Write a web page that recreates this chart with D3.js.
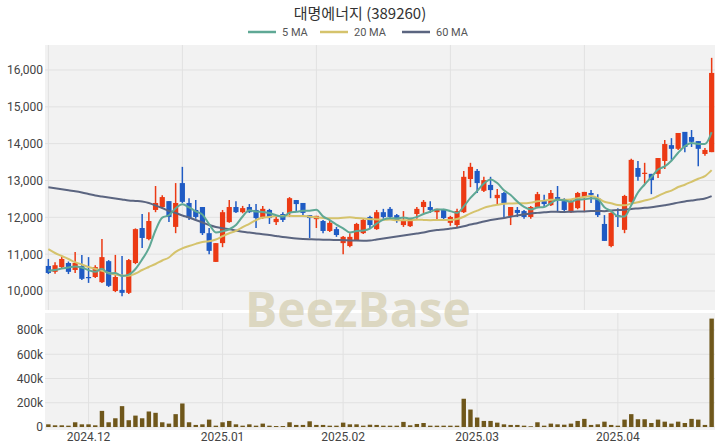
<!DOCTYPE html>
<html><head><meta charset="utf-8">
<script src="https://cdn.jsdelivr.net/npm/d3@7"></script>
<style>body{margin:0;background:#fff}svg{display:block}</style>
</head><body><svg id="c" width="720" height="448"></svg>
<script>
const title = "대명에너지 (389260)";
const dates = [
"2024-11-22","2024-11-25","2024-11-26","2024-11-27","2024-11-28","2024-11-29",
"2024-12-02","2024-12-03","2024-12-04","2024-12-05","2024-12-06","2024-12-09","2024-12-10","2024-12-11","2024-12-12","2024-12-13",
"2024-12-16","2024-12-17","2024-12-18","2024-12-19","2024-12-20","2024-12-23","2024-12-24","2024-12-26","2024-12-27","2024-12-30",
"2025-01-02","2025-01-03","2025-01-06","2025-01-07","2025-01-08","2025-01-09","2025-01-10","2025-01-13","2025-01-14","2025-01-15",
"2025-01-16","2025-01-17","2025-01-20","2025-01-21","2025-01-22","2025-01-23","2025-01-24","2025-01-31",
"2025-02-03","2025-02-04","2025-02-05","2025-02-06","2025-02-07","2025-02-10","2025-02-11","2025-02-12","2025-02-13","2025-02-14",
"2025-02-17","2025-02-18","2025-02-19","2025-02-20","2025-02-21","2025-02-24","2025-02-25","2025-02-26","2025-02-27","2025-02-28",
"2025-03-03","2025-03-04","2025-03-05","2025-03-06","2025-03-07","2025-03-10","2025-03-11","2025-03-12","2025-03-13","2025-03-14",
"2025-03-17","2025-03-18","2025-03-19","2025-03-20","2025-03-21","2025-03-24","2025-03-25","2025-03-26","2025-03-27","2025-03-28","2025-03-31",
"2025-04-01","2025-04-02","2025-04-03","2025-04-04","2025-04-07","2025-04-08","2025-04-09","2025-04-10","2025-04-11",
"2025-04-14","2025-04-15","2025-04-16","2025-04-17","2025-04-18","2025-04-21"];
const open = [10680,10520,10650,10760,10570,10680,10380,10380,10240,10810,10000,10030,9950,10760,11710,11410,12200,12280,12440,11740,
12930,12390,12200,12280,11570,10790,11300,11870,12280,12140,12280,12200,12010,12200,11870,12090,12120,12470,12390,12060,
11950,11900,11630,11680,11300,11220,11380,11570,12010,11680,12140,12230,12060,11790,11760,12090,12280,12280,12140,12200,
11850,11790,12140,13040,13260,12720,12880,12520,12660,12040,12200,12170,12010,12280,12440,12330,12550,12440,12140,12250,
12550,12660,12520,11820,11220,12060,11660,12420,13340,13180,13180,13180,13530,13960,13860,14320,14180,14070,13720,13770];
const high = [10870,10780,10950,10800,11060,10980,10920,10700,11410,10840,10980,10950,10870,11700,12090,12140,12850,12600,12440,12930,
13370,12520,12470,12280,11710,11300,12200,12470,12440,12310,12360,12360,12310,12230,12010,12140,12550,12470,12390,12060,
12040,11930,11930,11740,11490,11570,11850,11980,12040,12200,12230,12280,12090,12170,11980,12280,12470,12440,12230,12230,
12040,12230,13260,13480,13310,13100,13100,12770,12690,12280,12280,12200,12310,12690,12610,12740,12850,12520,12470,12690,
12690,12740,12630,12060,12140,12250,12610,13590,13530,13480,13180,13610,14100,14150,14290,14320,14370,14070,13880,16330];
const low = [10460,10470,10600,10460,10490,10300,10220,10350,10220,10110,9970,9860,9920,10730,11170,11380,12140,12250,11870,11570,
12390,11930,11960,11520,11000,10790,11190,11850,12120,12110,12120,11710,11960,11820,11790,11870,12010,12170,12060,11440,
11710,11570,11600,11470,11000,11190,11360,11550,11710,11660,11960,11960,11850,11740,11740,11960,12120,12120,11900,11900,
11770,11740,12120,12820,12660,12690,12520,12360,12010,11790,12010,11960,11960,12250,12280,12310,12140,12120,12120,12220,
12140,12390,12010,11360,11190,11740,11570,12390,12990,12910,12630,13070,13310,13560,13830,13770,13910,13390,13670,13770];
const close = [10490,10700,10870,10520,10760,10330,10350,10650,10920,10140,10380,9950,10840,11680,11440,11900,12390,12550,12010,12390,
12420,11980,12010,11570,11090,11300,12140,12280,12140,12250,12140,11980,12230,11980,11960,11930,12520,12360,12120,11980,
12040,11630,11850,11520,11470,11470,11820,11930,11790,12140,12010,12010,11900,11930,11980,12230,12420,12200,12230,11980,
12010,12170,13100,13370,12930,13010,12740,12610,12390,12280,12120,12010,12280,12630,12360,12660,12470,12200,12420,12660,
12690,12610,12060,11360,12120,12010,12580,13560,13100,13210,13010,13610,13990,13860,14290,13910,14050,13860,13830,15920];
const volume = [22000,14000,14000,11000,39000,22000,22000,14000,133000,39000,72000,172000,56000,94000,72000,128000,117000,39000,28000,106000,
194000,39000,17000,22000,61000,11000,39000,50000,22000,11000,22000,11000,28000,11000,8000,8000,39000,17000,17000,47000,
17000,17000,11000,11000,36000,22000,22000,11000,19000,17000,11000,11000,11000,42000,14000,25000,33000,11000,11000,11000,
11000,11000,233000,144000,78000,50000,50000,36000,22000,17000,17000,11000,6000,39000,11000,28000,22000,19000,28000,50000,
67000,17000,22000,44000,17000,11000,61000,106000,64000,64000,33000,61000,44000,28000,44000,33000,67000,61000,17000,894000];
const ma5Lead = [10550,10570,10610,10640];
const ma20Lead = [11135,11032,10950,10869,10782,10719,10652,10605,10548,10489,10448,10421,10415,10475,10570,10652,10733,10828,10910];
const ma60Lead = [12815,12791,12764,12734,12707,12674,12634,12593,12566,12539,12511,12484,12457,12444,12430,12389,12321,12253,12172,12118,
12050,11995,11928,11860,11792,11738,11702,11675,11643,11610,11586,11564,11542,11520,11493,11466,11444,11425,11412,11404,
11398,11393,11390,11385,11379,11374,11368,11366,11371,11398,11425,11453,11480,11507,11534,11561,11588,11629,11656];
const priceTicks = [10000,11000,12000,13000,14000,15000,16000];
const volumeTicks = [0,200000,400000,600000,800000];
const maSeries = [
  {name:"5 MA", n:5, lead:ma5Lead, color:"#5fa895"},
  {name:"20 MA", n:20, lead:ma20Lead, color:"#d5c36c"},
  {name:"60 MA", n:60, lead:ma60Lead, color:"#5b6580"}
];

function movingAvg(n, lead){
  return close.map((c,i)=> i < n-1 ? lead[i] : d3.mean(close.slice(i-n+1, i+1)));
}

const svg = d3.select("#c");
const L = 45, R = 715, mainTop = 45, mainBot = 310, volTop = 313, volBot = 430;
const x = d3.scaleBand().domain(dates).range([L, R]).padding(0);
const cx = d => x(d) + x.bandwidth()/2;
const y = d3.scaleLinear().domain([10000,16000]).range([291,70]);
const yv = d3.scaleLinear().domain([0,800000]).range([427,330]);
const numFont = "Roboto, 'Noto Sans', sans-serif";

// panels
svg.append("rect").attr("x",L).attr("y",mainTop).attr("width",R-L).attr("height",mainBot-mainTop).attr("fill","#f2f2f2");
svg.append("rect").attr("x",L).attr("y",volTop).attr("width",R-L).attr("height",volBot-volTop).attr("fill","#f2f2f2");

// grid main
const gMain = svg.append("g");
gMain.selectAll("line.h").data(priceTicks).join("line")
  .attr("x1",L).attr("x2",R).attr("y1",d=>y(d)).attr("y2",d=>y(d)).attr("stroke","#e1e1e1").attr("stroke-width",1);
const gridIdx = dates.filter((d,i)=>i%20===0);
gMain.selectAll("line.v").data(gridIdx).join("line")
  .attr("x1",d=>cx(d)).attr("x2",d=>cx(d)).attr("y1",mainTop).attr("y2",mainBot).attr("stroke","#e1e1e1");
// y axis labels main
const yAxis = d3.axisLeft(y).tickValues(priceTicks).tickSize(0).tickPadding(0).tickFormat(d3.format(","));
const ga = svg.append("g").attr("transform",`translate(${L-2},0)`).call(yAxis);
ga.select(".domain").remove();
ga.selectAll("text").attr("font-family",numFont).attr("font-size",12).attr("fill","#444");

// grid volume
const monthStarts = dates.filter((d,i)=> i>0 && d.slice(0,7)!==dates[i-1].slice(0,7));
svg.selectAll("line.vh").data(volumeTicks).join("line")
  .attr("x1",L).attr("x2",R).attr("y1",d=>yv(d)).attr("y2",d=>yv(d)).attr("stroke","#e1e1e1");
svg.selectAll("line.vv").data(monthStarts).join("line")
  .attr("x1",d=>cx(d)).attr("x2",d=>cx(d)).attr("y1",volTop).attr("y2",volBot).attr("stroke","#e1e1e1");
const vAxis = d3.axisLeft(yv).tickValues(volumeTicks).tickSize(0).tickPadding(0)
  .tickFormat(d=> d===0 ? "0" : (d/1000)+"k");
const gv = svg.append("g").attr("transform",`translate(${L-2},0)`).call(vAxis);
gv.select(".domain").remove();
gv.selectAll("text").attr("font-family",numFont).attr("font-size",12).attr("fill","#444");

// x axis labels
const xAxis = d3.axisBottom(x).tickValues(monthStarts).tickSize(0).tickPadding(0)
  .tickFormat(d=> d.slice(0,4)+"."+d.slice(5,7));
const gx = svg.append("g").attr("transform",`translate(0,${volBot})`).call(xAxis);
gx.select(".domain").remove();
gx.selectAll("text").attr("font-family",numFont).attr("font-size",12).attr("fill","#444").attr("dy","0.95em");

// watermark
svg.append("text").attr("x",358).attr("y",327).attr("text-anchor","middle")
  .attr("font-family","'Open Sans', sans-serif").attr("font-weight",700).attr("font-size",48)
  .attr("fill","#d8d2b8").attr("fill-opacity",0.85).text("BeezBase");

// volume bars
const bw = x.bandwidth();
svg.append("g").selectAll("rect").data(dates).join("rect")
  .attr("x",d=>cx(d)-bw*0.33).attr("width",bw*0.66)
  .attr("y",(d,i)=>yv(volume[i])).attr("height",(d,i)=>yv(0)-yv(volume[i]))
  .attr("fill","#6f571b");

// candles
const up = "#ec3a14", down = "#1f5bc4";
const gc = svg.append("g");
gc.selectAll("line").data(dates).join("line")
  .attr("x1",d=>cx(d)).attr("x2",d=>cx(d))
  .attr("y1",(d,i)=>y(high[i])).attr("y2",(d,i)=>y(low[i]))
  .attr("stroke",(d,i)=> close[i]>=open[i]?up:down).attr("stroke-width",1.5);
gc.selectAll("rect").data(dates).join("rect")
  .attr("x",d=>cx(d)-2.6).attr("width",5.2)
  .attr("y",(d,i)=>y(Math.max(open[i],close[i])))
  .attr("height",(d,i)=>Math.max(1.2, Math.abs(y(open[i])-y(close[i]))))
  .attr("fill",(d,i)=> close[i]>=open[i]?up:down);

// MA lines
const line = d3.line().x((v,i)=>cx(dates[i])).y(v=>y(v)).curve(d3.curveMonotoneX);
maSeries.slice().reverse().forEach(s=>{
  svg.append("path").attr("d",line(movingAvg(s.n,s.lead))).attr("fill","none")
    .attr("stroke",s.color).attr("stroke-width",2);
});

// title
svg.append("text").attr("x",360).attr("y",19).attr("text-anchor","middle")
  .attr("font-family","'Noto Sans CJK KR', 'Noto Sans', sans-serif").attr("font-size",15).attr("fill","#333").text(title);

// legend
const legendX = [248, 320, 402];
const lg = svg.append("g");
maSeries.forEach((s,k)=>{
  lg.append("line").attr("x1",legendX[k]).attr("x2",legendX[k]+28).attr("y1",32).attr("y2",32)
    .attr("stroke",s.color).attr("stroke-width",2.5);
  lg.append("text").attr("x",legendX[k]+34).attr("y",36).attr("font-family",numFont)
    .attr("font-size",11).attr("fill","#555").text(s.name);
});
</script></body></html>
